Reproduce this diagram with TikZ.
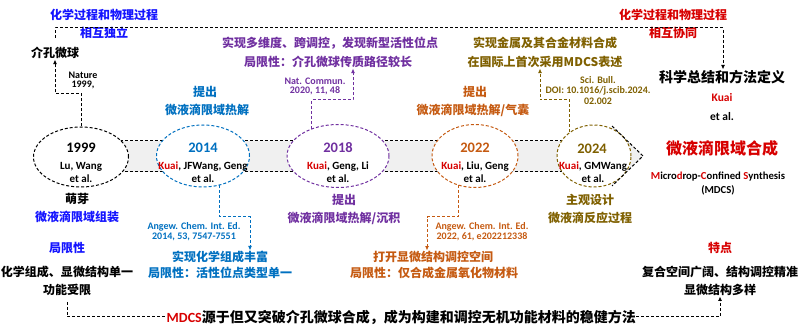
\documentclass[tikz,border=0pt]{standalone}
\usepackage{fontspec}
\setmainfont{Carlito}
\newfontfamily\cjk{Noto Sans CJK SC}
\usetikzlibrary{shapes.geometric,arrows.meta}
\definecolor{cBlue}{RGB}{20,20,255}
\definecolor{oBlue}{RGB}{0,112,192}
\definecolor{cPurp}{RGB}{112,48,160}
\definecolor{cOran}{RGB}{197,90,17}
\definecolor{cOlive}{RGB}{127,96,0}
\definecolor{cRed}{RGB}{215,0,0}
\definecolor{bandgray}{RGB}{240,240,240}
\tikzset{
  cn/.style={font=\cjk\bfseries\fontsize{12}{14}\selectfont, inner sep=0.5pt},
  cnl/.style={font=\cjk\bfseries\fontsize{14}{16}\selectfont, inner sep=0.5pt},
  cnx/.style={font=\cjk\bfseries\fontsize{16}{18}\selectfont, inner sep=0.5pt},
  refl/.style={font=\bfseries\fontsize{10}{11}\selectfont, inner sep=0.5pt},
  yr/.style={font=\bfseries\fontsize{14.5}{16}\selectfont, inner sep=0.5pt},
  nm/.style={font=\bfseries\fontsize{11}{12}\selectfont, inner sep=0.5pt},
  dl/.style={dash pattern=on 3pt off 2pt, line width=1pt},
  ell/.style={ellipse, dl, fill=white, inner sep=0pt},
  arr/.style={dl, -{Latex[length=4.5pt,width=4pt]}},
}
\newcommand{\kk}{\textcolor{cRed}{Kuai}}
\begin{document}
\begin{tikzpicture}[x=1pt,y=-1pt]
\useasboundingbox (0,0) rectangle (800,336);
% band arrow
\fill[bandgray] (100,141) -- (612,141) -- (612,126) -- (643,156) -- (612,186) -- (612,172) -- (100,172) -- cycle;
\draw[dl] (100,141) -- (612,141);
\draw[dl] (100,172) -- (612,172);
% ellipses
\node[ell, draw=black, minimum width=95pt, minimum height=60pt] (e1999) at (81,157) {};
\node[ell, draw=oBlue, minimum width=93pt, minimum height=62pt] (e2014) at (203,156) {};
\node[ell, draw=cPurp, minimum width=102pt, minimum height=63pt] (e2018) at (338,156) {};
\node[ell, draw=cOran, minimum width=86pt, minimum height=63pt] (e2022) at (475,156) {};
\node[ell, draw=cOlive, minimum width=74pt, minimum height=62pt] (e2024) at (594,156) {};
\draw[dl] (612,126) -- (643,156) -- (612,186);
% ellipse texts
\node[yr] (y1999) at (81,148) {1999};
\node[nm] (n1999a) at (81,167) {Lu, Wang};
\node[nm] (n1999b) at (81,179) {et al.};
\node[yr, text=oBlue] (y2014) at (203,148) {2014};
\node[nm] (n2014a) at (203,167) {\kk, JFWang, Geng};
\node[nm] (n2014b) at (203,179) {et al.};
\node[yr, text=cPurp] (y2018) at (338,148) {2018};
\node[nm] (n2018a) at (338,167) {\kk, Geng, Li};
\node[nm] (n2018b) at (338,179) {et al.};
\node[yr, text=cOran] (y2022) at (475,148) {2022};
\node[nm] (n2022a) at (475,167) {\kk, Liu, Geng};
\node[nm] (n2022b) at (475,179) {et al.};
\node[yr, text=cOlive] (y2024) at (592,149) {2024};
\node[nm] (n2024a) at (593,167) {\kk, GMWang};
\node[nm] (n2024b) at (593,179) {et al.};
% top left
\node[cn, text=cBlue] (tl1) at (104,15) {化学过程和物理过程};
\node[cn, text=cBlue] (tl2) at (104,33) {相互独立};
\node[cn] (jk) at (55,53) {介孔微球};
\node[refl] (r1999a) at (83,75) {Nature};
\node[refl] (r1999b) at (83,85) {1999,};
% top right
\node[cn, text=cRed] (tr1) at (673,15) {化学过程和物理过程};
\node[cn, text=cRed] (tr2) at (673,33) {相互协同};
\node[cnl] (kx) at (722,77) {科学总结和方法定义};
\node[font=\bfseries\fontsize{11.5}{13}\selectfont, text=cRed, inner sep=0.5pt] (kuai) at (722,98) {Kuai};
\node[font=\bfseries\fontsize{11.5}{13}\selectfont, inner sep=0.5pt] (etal) at (722,117) {et al.};
\node[cnx, text=cRed] (wyd) at (722,148) {微液滴限域合成};
\node[font=\bfseries\fontsize{10.7}{12}\selectfont, inner sep=0.5pt] (mdcs1) at (718,177) {\textcolor{cRed}{M}icro\textcolor{cRed}{d}rop-\textcolor{cRed}{C}onfined \textcolor{cRed}{S}ynthesis};
\node[font=\bfseries\fontsize{10.7}{12}\selectfont, inner sep=0.5pt] (mdcs2) at (718,190) {(MDCS)};
% 1999 bottom
\node[cn] (my) at (77,199) {萌芽};
\node[cn, text=cBlue] (my2) at (77,217) {微液滴限域组装};
\node[cn, text=cBlue] (jx1) at (67,248) {局限性};
\node[cn] (jx2) at (67,272) {化学组成、显微结构单一};
\node[cn] (jx3) at (67,290) {功能受限};
% 2014
\node[cn, text=oBlue] (a14a) at (205,92) {提出};
\node[cn, text=oBlue] (a14b) at (207,110) {微液滴限域热解};
\node[refl, text=oBlue] (r14a) at (194,227) {Angew. Chem. Int. Ed.};
\node[refl, text=oBlue] (r14b) at (194,237) {2014, 53, 7547-7551};
\node[cn, text=oBlue] (b14a) at (220,257) {实现化学组成丰富};
\node[cn, text=oBlue] (b14b) at (220,273) {局限性：活性位点类型单一};
% 2018
\node[cn, text=cPurp] (a18a) at (330,43) {实现多维度、跨调控，发现新型活性位点};
\node[cn, text=cPurp] (a18b) at (328,62) {局限性：介孔微球传质路径较长};
\node[refl, text=cPurp] (r18a) at (315,81) {Nat. Commun.};
\node[refl, text=cPurp] (r18b) at (315,91) {2020, 11, 48};
\node[cn, text=cPurp] (b18a) at (344,200) {提出};
\node[cn, text=cPurp] (b18b) at (344,218) {微液滴限域热解/沉积};
% 2022
\node[cn, text=cOran] (a22a) at (475,92) {提出};
\node[cn, text=cOran] (a22b) at (473,110) {微液滴限域热解/气囊};
\node[refl, text=cOran] (r22a) at (482,227) {Angew. Chem. Int. Ed.};
\node[refl, text=cOran] (r22b) at (482,237) {2022, 61, e202212338};
\node[cn, text=cOran] (b22a) at (433,257) {打开显微结构调控空间};
\node[cn, text=cOran] (b22b) at (434,273) {局限性：仅合成金属氧化物材料};
% 2024
\node[cn, text=cOlive] (a24a) at (545,43) {实现金属及其合金材料合成};
\node[cn, text=cOlive] (a24b) at (545,62) {在国际上首次采用MDCS表述};
\node[refl, text=cOlive] (r24a) at (598,80) {Sci. Bull.};
\node[refl, text=cOlive] (r24b) at (598,91) {DOI: 10.1016/j.scib.2024.};
\node[refl, text=cOlive] (r24c) at (598,101) {02.002};
\node[cn, text=cOlive] (b24a) at (590,200) {主观设计};
\node[cn, text=cOlive] (b24b) at (590,218) {微液滴反应过程};
% bottom right
\node[cn, text=cRed] (td1) at (720,248) {特点};
\node[cn] (td2) at (720,272) {复合空间广阔、结构调控精准};
\node[cn] (td3) at (720,290) {显微结构多样};
% bottom sentence
\node[cnl, anchor=west] (sum) at (166,317) {\fontspec{Carlito}\textcolor{cRed}{MDCS}\cjk 源于但又突破介孔微球合成，成为构建和调控无机功能材料的稳健方法};
% connectors
\coordinate (tS) at (55,38);
\coordinate (tA) at (55,28);
\coordinate (tB) at (723,28);
\draw[arr] (tS) -- (tA) -- (tB) -- (kx.north -| tB);
\coordinate (k99) at (55,94);
\draw[arr] (e1999.north) |- (k99) -- (jk.south);
\coordinate (k14) at (250,217);
\draw[arr, draw=oBlue] (e2014.-60) |- (k14) -- (k14 |- b14a.north);
\coordinate (k18) at (353,100);
\draw[arr, draw=cPurp] (e2018.134) |- (k18) -- (k18 |- a18b.south);
\coordinate (k22) at (427,217);
\draw[arr, draw=cOran] (e2022.-120) |- (k22) -- (k22 |- b22a.north);
\coordinate (k24) at (540,100);
\draw[arr, draw=cOlive] (e2024.135) |- (k24) -- (k24 |- a24b.south);
\coordinate (bS) at (67,302);
\draw[dl] (bS) |- (sum.west);
\coordinate (bR) at (720,317);
\draw[arr] (sum.east) -- (bR) -- (td3.south);
\end{tikzpicture}
\end{document}
